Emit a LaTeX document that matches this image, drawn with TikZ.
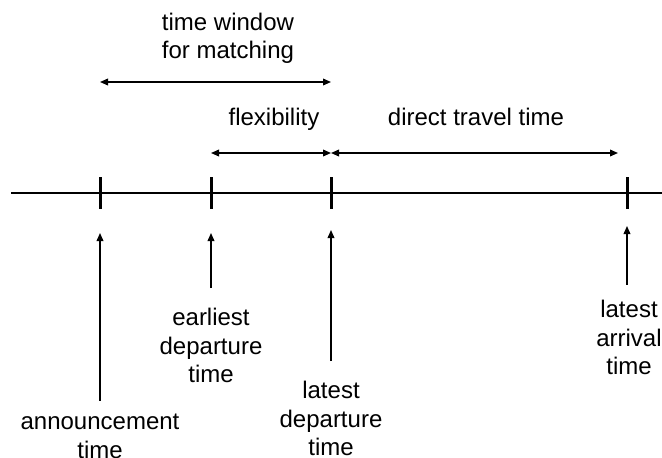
\documentclass[tikz,border=0pt]{standalone}
\usepackage{fontspec}
\setmainfont{Liberation Sans}
\usetikzlibrary{arrows.meta}
\tikzset{
	timeline/.style={line width=1.5pt},%
	tickmark/.style={line width=2.25pt},%
	span/.style={line width=1.1pt,{Triangle[length=6pt,width=5pt]}-{Triangle[length=6pt,width=5pt]}},%
	pointer/.style={line width=1.1pt,-{Triangle[length=6pt,width=5pt]}},%
	label/.style={anchor=north,inner sep=0pt,align=center,font=\fontsize{18pt}{21.5pt}\selectfont},%
}
\def\axisy{193}
\begin{document}
\begin{tikzpicture}[x=0.75pt,y=-0.75pt]
		\useasboundingbox (0,0) rectangle (662,458);
		% Axis {{{
		\coordinate (start) at (11,\axisy);
		\coordinate (stop) at (662,\axisy);
		\coordinate (tA) at (100,\axisy);
		\coordinate (tB) at (211,\axisy);
		\coordinate (tC) at (331,\axisy);
		\coordinate (tD) at (627,\axisy);
		\draw[timeline] (start) -- (stop);
		\foreach \t in {tA,tB,tC,tD}
			\draw[tickmark] (\t) ++(0,-16) -- ++(0,32);
		% }}}
		% Spans {{{
		\node[label] (window) at (228,12.5) {time window\\for matching};
		\node[label] (flex) at (274,108) {flexibility};
		\node[label] (travel) at (476,108) {direct travel time};
		\draw[span] (tA |- 0,82) -- (tC |- 0,82);
		\draw[span] (tB |- 0,153) -- (tC |- 0,153);
		\draw[span,shorten >=6.75pt] (tC |- 0,153) -- (tD |- 0,153);
		% }}}
		% Events {{{
		\node[label] (announce) at (100,414) {announcement\\time};
		\node[label] (earliest) at (211,308) {earliest\\departure\\time};
		\node[label] (latestdep) at (331,381) {latest\\departure\\time};
		\node[label] (latestarr) at (629,300) {latest\\arrival\\time};
		\draw[pointer,shorten <=10pt,shorten >=30pt] (announce.north) -- (announce.north |- tA);
		\draw[pointer,shorten <=15pt,shorten >=30pt] (earliest.north) -- (earliest.north |- tB);
		\draw[pointer,shorten <=15pt,shorten >=27.75pt] (latestdep.north) -- (latestdep.north |- tC);
		\draw[pointer,shorten <=11.5pt,shorten >=24.75pt] (tD |- latestarr.north) -- (tD);
		% }}}
\end{tikzpicture}
\end{document}
